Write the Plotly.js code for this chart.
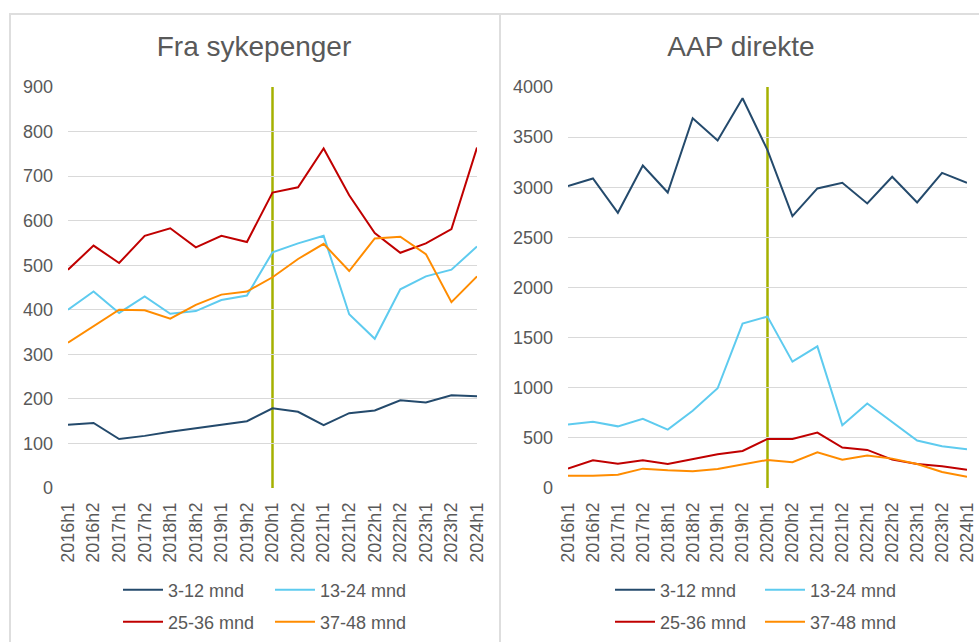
<!DOCTYPE html>
<html><head><meta charset="utf-8">
<script src="https://cdn.plot.ly/plotly-3.0.1.min.js"></script>
<style>
html,body{margin:0;padding:0;background:#fff;width:979px;height:642px;overflow:hidden;}
#left{position:absolute;left:0;top:0;width:499px;height:642px;}
#right{position:absolute;left:499px;top:0;width:480px;height:642px;}
.frame{position:absolute;border:2px solid #dedede;pointer-events:none;box-sizing:border-box;}
</style></head><body>
<div id="left"></div><div id="right"></div>
<div class="frame" style="left:9px;top:13px;width:492px;height:700px;"></div>
<div class="frame" style="left:499px;top:13px;width:600px;height:700px;"></div>
<script>
var periods = ['2016h1','2016h2','2017h1','2017h2','2018h1','2018h2','2019h1','2019h2','2020h1','2020h2','2021h1','2021h2','2022h1','2022h2','2023h1','2023h2','2024h1'];
var seriesNames = ['3-12 mnd','13-24 mnd','25-36 mnd','37-48 mnd'];
var seriesColors = ['#244a6c','#5ecbef','#c00000','#ff8c00'];
var markerPeriod = '2020h1';

// Fra sykepenger
var syk_3_12  = [142,146,110,117,126,134,142,150,179,171,141,168,174,197,192,208,206];
var syk_13_24 = [400,441,393,430,391,397,422,432,529,549,566,390,335,446,475,490,542];
var syk_25_36 = [490,544,505,566,583,540,566,552,663,675,762,657,572,528,549,581,764];
var syk_37_48 = [326,363,400,399,380,411,434,441,473,514,548,487,560,564,525,417,475];

// AAP direkte
var aap_3_12  = [3011,3088,2745,3217,2948,3688,3466,3888,3370,2712,2988,3044,2838,3104,2849,3143,3044];
var aap_13_24 = [633,660,615,690,583,770,995,1640,1710,1260,1413,626,843,655,473,416,386];
var aap_25_36 = [193,277,243,277,240,290,336,370,490,490,553,403,380,283,240,217,183];
var aap_37_48 = [123,123,133,193,177,167,190,233,280,257,357,283,323,293,240,160,113];

var FONT = 'Liberation Sans, Arial, sans-serif';
var GRAY = '#595959';

function makeChart(divId, title, data, opt) {
  var traces = data.map(function (ys, i) {
    return {
      x: periods, y: ys, name: seriesNames[i], type: 'scatter', mode: 'lines',
      line: {color: seriesColors[i], width: 2},
      legend: i < 2 ? 'legend' : 'legend2',
      hoverinfo: 'skip'
    };
  });
  var legendBase = {
    orientation: 'h', xref: 'container', x: opt.legX, xanchor: 'left',
    yref: 'container', yanchor: 'middle',
    entrywidth: opt.entryW, entrywidthmode: 'pixels', itemwidth: 40,
    font: {family: FONT, size: 18, color: GRAY}, bgcolor: 'rgba(0,0,0,0)',
    borderwidth: 0, tracegroupgap: 0
  };
  var layout = {
    width: opt.w, height: 642,
    margin: {l: opt.l, r: opt.r, t: 87, b: 154, pad: 0},
    paper_bgcolor: 'rgba(0,0,0,0)', plot_bgcolor: 'rgba(0,0,0,0)',
    font: {family: FONT, color: GRAY, size: 18},
    title: {text: title, font: {family: FONT, size: 28, color: GRAY},
            xref: 'container', x: opt.titleX, xanchor: 'center',
            yref: 'container', y: 1 - 46 / 642, yanchor: 'middle'},
    xaxis: {type: 'category', range: [0, periods.length - 1], showgrid: false, zeroline: false,
            showline: false, ticks: '', tickangle: -90, tickfont: {size: 18, color: GRAY},
            ticklabelstandoff: 10, fixedrange: true},
    yaxis: {range: opt.yRange, dtick: opt.dtick, tick0: 0, gridcolor: '#d9d9d9', gridwidth: 1,
            zeroline: false, showline: false, ticks: '', tickfont: {size: 18, color: GRAY},
            ticklabelstandoff: 14, fixedrange: true},
    showlegend: true,
    legend: Object.assign({}, legendBase, {y: 1 - 590 / 642}),
    legend2: Object.assign({}, legendBase, {y: 1 - 622 / 642}),
    shapes: [{type: 'line', xref: 'x', yref: 'paper', x0: markerPeriod, x1: markerPeriod,
              y0: 0, y1: 1, line: {color: '#a5b100', width: 2.5}, layer: 'below'}]
  };
  Plotly.newPlot(divId, traces, layout, {displayModeBar: false, staticPlot: true});
}

makeChart('left', 'Fra sykepenger', [syk_3_12, syk_13_24, syk_25_36, syk_37_48],
  {w: 499, l: 68, r: 22, yRange: [0, 900], dtick: 100, titleX: 254 / 499, legX: 118 / 499, entryW: 97});
makeChart('right', 'AAP direkte', [aap_3_12, aap_13_24, aap_25_36, aap_37_48],
  {w: 480, l: 69, r: 12, yRange: [0, 4000], dtick: 500, titleX: 242 / 480, legX: 111 / 480, entryW: 95});
</script>
</body></html>
